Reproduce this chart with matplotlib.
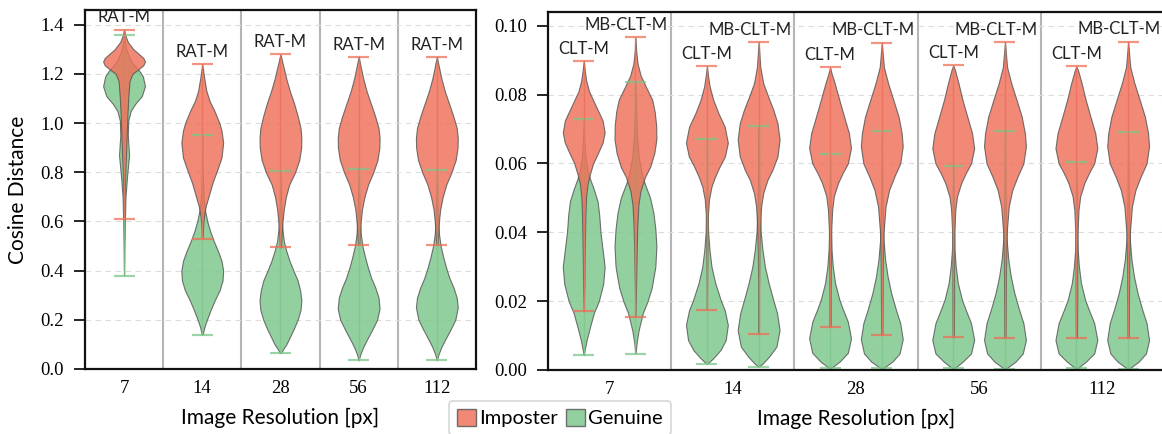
import numpy as np
import matplotlib
matplotlib.use("Agg")
import matplotlib.pyplot as plt
from matplotlib.patches import Patch

RESOLUTIONS = ["7", "14", "28", "56", "112"]

# Violin outlines: levels (cosine distance, bottom -> top)
# and the relative half width of the violin at each level (widest = 1).
# First / last level are the min / max of each distribution.

# ---- left panel: RAT-M ----
RAT_IMP_Y = [
    [0.61, 0.70, 0.80, 0.88, 0.96, 1.03, 1.10, 1.17, 1.20, 1.22, 1.235, 1.25, 1.265, 1.28, 1.30, 1.33, 1.355, 1.38],
    [0.53, 0.58, 0.62, 0.66, 0.71, 0.76, 0.81, 0.86, 0.92, 0.97, 1.00, 1.05, 1.09, 1.13, 1.18, 1.24],
    [0.495, 0.55, 0.60, 0.65, 0.70, 0.75, 0.80, 0.85, 0.90, 0.94, 0.98, 1.03, 1.08, 1.13, 1.18, 1.23, 1.28],
    [0.505, 0.55, 0.60, 0.65, 0.70, 0.75, 0.80, 0.85, 0.90, 0.94, 0.98, 1.03, 1.08, 1.13, 1.18, 1.22, 1.27],
    [0.505, 0.55, 0.60, 0.65, 0.70, 0.75, 0.80, 0.85, 0.90, 0.94, 0.98, 1.03, 1.08, 1.13, 1.18, 1.22, 1.27],
]
RAT_IMP_W = [
    [0.01, 0.03, 0.06, 0.10, 0.13, 0.16, 0.20, 0.26, 0.40, 0.70, 0.92, 1.0, 0.92, 0.72, 0.45, 0.18, 0.07, 0.0],
    [0.02, 0.04, 0.08, 0.16, 0.33, 0.50, 0.72, 0.92, 1.0, 0.92, 0.82, 0.58, 0.35, 0.20, 0.10, 0.0],
    [0.03, 0.06, 0.10, 0.16, 0.26, 0.42, 0.70, 0.90, 0.99, 1.0, 0.96, 0.82, 0.65, 0.45, 0.28, 0.14, 0.0],
    [0.03, 0.06, 0.10, 0.16, 0.28, 0.45, 0.70, 0.90, 0.99, 1.0, 0.95, 0.78, 0.58, 0.38, 0.22, 0.12, 0.0],
    [0.03, 0.06, 0.10, 0.16, 0.28, 0.45, 0.70, 0.90, 0.99, 1.0, 0.95, 0.78, 0.58, 0.38, 0.22, 0.12, 0.0],
]
RAT_GEN_Y = [
    [0.38, 0.50, 0.60, 0.70, 0.78, 0.87, 0.95, 1.01, 1.05, 1.08, 1.11, 1.15, 1.19, 1.21, 1.25, 1.30, 1.36],
    [0.14, 0.17, 0.20, 0.24, 0.28, 0.32, 0.36, 0.40, 0.44, 0.48, 0.52, 0.56, 0.60, 0.65, 0.70, 0.80, 0.95],
    [0.065, 0.08, 0.10, 0.13, 0.16, 0.20, 0.24, 0.28, 0.32, 0.36, 0.40, 0.44, 0.48, 0.52, 0.58, 0.66, 0.805],
    [0.035, 0.06, 0.09, 0.12, 0.16, 0.20, 0.245, 0.29, 0.33, 0.37, 0.41, 0.45, 0.50, 0.55, 0.62, 0.70, 0.815],
    [0.035, 0.06, 0.09, 0.12, 0.16, 0.20, 0.25, 0.29, 0.33, 0.37, 0.41, 0.45, 0.50, 0.55, 0.62, 0.70, 0.81],
]
RAT_GEN_W = [
    [0.0, 0.02, 0.04, 0.07, 0.14, 0.24, 0.18, 0.20, 0.32, 0.55, 0.85, 1.0, 0.90, 0.75, 0.35, 0.10, 0.0],
    [0.02, 0.10, 0.22, 0.40, 0.60, 0.83, 0.97, 1.0, 0.92, 0.75, 0.55, 0.38, 0.24, 0.12, 0.06, 0.02, 0.0],
    [0.03, 0.12, 0.28, 0.45, 0.62, 0.82, 0.96, 1.0, 0.94, 0.82, 0.62, 0.43, 0.28, 0.16, 0.08, 0.04, 0.0],
    [0.0, 0.08, 0.22, 0.40, 0.65, 0.88, 1.0, 0.95, 0.80, 0.60, 0.45, 0.32, 0.18, 0.10, 0.05, 0.03, 0.0],
    [0.0, 0.08, 0.22, 0.40, 0.65, 0.88, 1.0, 0.95, 0.80, 0.60, 0.45, 0.32, 0.18, 0.10, 0.05, 0.03, 0.0],
]

# ---- right panel: CLT-M ----
CLT_IMP_Y = [
    [0.017, 0.025, 0.035, 0.045, 0.050, 0.054, 0.057, 0.060, 0.063, 0.066, 0.069, 0.0725, 0.0755, 0.0785, 0.081, 0.084, 0.087, 0.0898],
    [0.0175, 0.028, 0.038, 0.045, 0.0495, 0.0533, 0.056, 0.059, 0.062, 0.066, 0.0707, 0.0746, 0.0785, 0.0824, 0.0853, 0.0882],
    [0.0125, 0.022, 0.032, 0.040, 0.0465, 0.0505, 0.0543, 0.0572, 0.060, 0.0645, 0.0688, 0.0736, 0.0785, 0.0833, 0.0860, 0.0879],
    [0.0095, 0.020, 0.030, 0.0397, 0.0465, 0.0504, 0.0543, 0.0572, 0.060, 0.0644, 0.0688, 0.0736, 0.0785, 0.0833, 0.0872, 0.0885],
    [0.0093, 0.020, 0.030, 0.0397, 0.0465, 0.0504, 0.0543, 0.0572, 0.060, 0.0644, 0.0688, 0.0736, 0.0785, 0.0833, 0.0870, 0.0882],
]
CLT_IMP_W = [
    [0.0, 0.03, 0.05, 0.08, 0.11, 0.18, 0.30, 0.45, 0.68, 0.90, 1.0, 0.90, 0.67, 0.44, 0.25, 0.12, 0.05, 0.0],
    [0.0, 0.015, 0.03, 0.05, 0.10, 0.22, 0.38, 0.60, 0.86, 1.0, 0.85, 0.55, 0.30, 0.13, 0.06, 0.0],
    [0.03, 0.03, 0.04, 0.05, 0.10, 0.18, 0.38, 0.60, 0.85, 1.0, 0.90, 0.67, 0.44, 0.22, 0.08, 0.0],
    [0.03, 0.04, 0.04, 0.05, 0.10, 0.18, 0.38, 0.60, 0.85, 1.0, 0.90, 0.67, 0.44, 0.25, 0.08, 0.0],
    [0.03, 0.04, 0.04, 0.05, 0.10, 0.18, 0.38, 0.60, 0.85, 1.0, 0.90, 0.67, 0.44, 0.25, 0.08, 0.0],
]
CLT_GEN_Y = [
    [0.0043, 0.006, 0.009, 0.0125, 0.0165, 0.020, 0.025, 0.030, 0.035, 0.040, 0.045, 0.049, 0.0525, 0.0555, 0.058, 0.062, 0.066, 0.0728],
    [0.0017, 0.0034, 0.0058, 0.0087, 0.0131, 0.0174, 0.0203, 0.0252, 0.030, 0.035, 0.040, 0.050, 0.067],
    [0.0006, 0.0024, 0.0050, 0.0092, 0.0140, 0.0178, 0.0205, 0.0252, 0.030, 0.035, 0.045, 0.0627],
    [0.0005, 0.0024, 0.0048, 0.0087, 0.0136, 0.0174, 0.0203, 0.0252, 0.030, 0.0349, 0.045, 0.0592],
    [0.0005, 0.0024, 0.0048, 0.0087, 0.0136, 0.0174, 0.0203, 0.0252, 0.030, 0.0349, 0.045, 0.0603],
]
CLT_GEN_W = [
    [0.0, 0.05, 0.15, 0.30, 0.48, 0.72, 0.93, 1.0, 0.90, 0.80, 0.74, 0.66, 0.48, 0.30, 0.18, 0.08, 0.04, 0.0],
    [0.0, 0.30, 0.65, 0.90, 1.0, 0.85, 0.66, 0.40, 0.22, 0.12, 0.06, 0.02, 0.0],
    [0.05, 0.45, 0.85, 1.0, 0.85, 0.60, 0.44, 0.24, 0.13, 0.07, 0.03, 0.0],
    [0.05, 0.45, 0.85, 1.0, 0.85, 0.60, 0.42, 0.22, 0.12, 0.06, 0.03, 0.0],
    [0.05, 0.45, 0.85, 1.0, 0.85, 0.60, 0.42, 0.22, 0.12, 0.06, 0.03, 0.0],
]

# ---- right panel: MB-CLT-M ----
MB_IMP_Y = [
    [0.0155, 0.025, 0.035, 0.042, 0.048, 0.052, 0.056, 0.059, 0.063, 0.067, 0.071, 0.075, 0.0785, 0.082, 0.0855, 0.089, 0.093, 0.0966],
    [0.0104, 0.025, 0.035, 0.042, 0.0475, 0.0514, 0.0552, 0.058, 0.062, 0.0669, 0.0717, 0.0756, 0.0795, 0.0833, 0.088, 0.0953],
    [0.0102, 0.020, 0.030, 0.0397, 0.0475, 0.0523, 0.0562, 0.060, 0.065, 0.0688, 0.0736, 0.0785, 0.0833, 0.088, 0.0951],
    [0.0094, 0.020, 0.030, 0.0397, 0.0475, 0.0523, 0.0562, 0.060, 0.065, 0.0688, 0.0736, 0.0785, 0.0833, 0.088, 0.0953],
    [0.0093, 0.020, 0.030, 0.0397, 0.0475, 0.0523, 0.0562, 0.060, 0.065, 0.0688, 0.0736, 0.0785, 0.0833, 0.088, 0.0954],
]
MB_IMP_W = [
    [0.0, 0.03, 0.06, 0.09, 0.14, 0.24, 0.45, 0.70, 0.90, 1.0, 0.99, 0.92, 0.80, 0.52, 0.25, 0.10, 0.03, 0.0],
    [0.0, 0.02, 0.04, 0.07, 0.12, 0.22, 0.42, 0.65, 0.90, 1.0, 0.90, 0.70, 0.45, 0.22, 0.08, 0.0],
    [0.03, 0.04, 0.05, 0.08, 0.18, 0.35, 0.60, 0.88, 1.0, 0.95, 0.80, 0.55, 0.30, 0.10, 0.0],
    [0.03, 0.04, 0.05, 0.08, 0.18, 0.35, 0.60, 0.88, 1.0, 0.95, 0.80, 0.55, 0.30, 0.10, 0.0],
    [0.03, 0.04, 0.05, 0.08, 0.18, 0.35, 0.60, 0.88, 1.0, 0.95, 0.80, 0.55, 0.30, 0.10, 0.0],
]
MB_GEN_Y = [
    [0.0047, 0.008, 0.0115, 0.0165, 0.020, 0.024, 0.030, 0.036, 0.041, 0.0455, 0.050, 0.054, 0.057, 0.062, 0.068, 0.075, 0.0838],
    [0.001, 0.0019, 0.0039, 0.0068, 0.0116, 0.0165, 0.0203, 0.0252, 0.030, 0.035, 0.040, 0.050, 0.060, 0.071],
    [0.0005, 0.0024, 0.0048, 0.0090, 0.0136, 0.0174, 0.0223, 0.0271, 0.032, 0.0378, 0.050, 0.0694],
    [0.0004, 0.0024, 0.0048, 0.0087, 0.0136, 0.0174, 0.0223, 0.0271, 0.032, 0.0378, 0.050, 0.0694],
    [0.0004, 0.0024, 0.0048, 0.0087, 0.0136, 0.0174, 0.0223, 0.0271, 0.032, 0.0378, 0.050, 0.0690],
]
MB_GEN_W = [
    [0.0, 0.06, 0.15, 0.35, 0.58, 0.78, 0.95, 1.0, 0.95, 0.86, 0.70, 0.45, 0.30, 0.15, 0.07, 0.03, 0.0],
    [0.0, 0.20, 0.50, 0.85, 1.0, 0.88, 0.70, 0.48, 0.30, 0.18, 0.10, 0.04, 0.02, 0.0],
    [0.05, 0.50, 0.85, 1.0, 0.88, 0.68, 0.45, 0.28, 0.16, 0.08, 0.03, 0.0],
    [0.05, 0.50, 0.85, 1.0, 0.88, 0.68, 0.45, 0.28, 0.16, 0.08, 0.03, 0.0],
    [0.05, 0.50, 0.85, 1.0, 0.88, 0.68, 0.45, 0.28, 0.16, 0.08, 0.03, 0.0],
]

IMP_COLOR = "#ef6f58"
GEN_COLOR = "#7cc68a"
EDGE_COLOR = "#555555"

SERIF = "Liberation Serif"
SANS = "Lato"


def draw_violins(ax, positions, levels, widths_rel, color, width):
    stats = [
        dict(coords=y, vals=w, mean=np.nan, median=np.nan, min=y[0], max=y[-1])
        for y, w in zip(levels, widths_rel)
    ]
    parts = ax.violin(stats, positions=positions, widths=width, showextrema=True)
    for b in parts["bodies"]:
        b.set_facecolor(color)
        b.set_edgecolor(EDGE_COLOR)
        b.set_linewidth(0.8)
        b.set_alpha(0.82)
    for k in ("cmins", "cmaxes"):
        parts[k].set_color(color)
        parts[k].set_linewidth(1.6)
        parts[k].set_alpha(0.75)
    parts["cbars"].set_color(color)
    parts["cbars"].set_linewidth(1.0)
    parts["cbars"].set_alpha(0.8)
    return parts


def style_axes(ax, yticks, fmt):
    n = len(RESOLUTIONS)
    ax.set_xlim(-0.5, n - 0.5)
    ax.set_xticks(range(n))
    ax.set_xticklabels(RESOLUTIONS, fontfamily=SERIF, fontsize=13.5)
    ax.set_yticks(yticks)
    ax.set_yticklabels([fmt.format(t) for t in yticks], fontfamily=SERIF, fontsize=13.5)
    ax.tick_params(axis="x", length=0, pad=8)
    ax.tick_params(axis="y", length=8, width=1.2, pad=7)
    for s in ax.spines.values():
        s.set_linewidth(1.6)
        s.set_color("#111111")
    ax.grid(axis="y", linestyle=(0, (5, 4)), color="#dcdcdc", linewidth=0.8)
    ax.set_axisbelow(True)
    for i in range(n - 1):
        ax.axvline(i + 0.5, color="#b5b5b8", linewidth=1.5, zorder=0.5)
    ax.set_xlabel("Image Resolution [px]", fontfamily=SANS, fontsize=15, labelpad=8)


fig = plt.figure(figsize=(11.62, 4.34), dpi=100)
ax_l = fig.add_axes([0.0731, 0.1498, 0.3365, 0.8272])
ax_r = fig.add_axes([0.4716, 0.1475, 0.5300, 0.8249])

pos = np.arange(len(RESOLUTIONS))

# left panel
draw_violins(ax_l, pos, RAT_GEN_Y, RAT_GEN_W, GEN_COLOR, 0.535)
draw_violins(ax_l, pos, RAT_IMP_Y, RAT_IMP_W, IMP_COLOR, 0.535)
ax_l.set_ylim(0, 1.46)
style_axes(ax_l, np.arange(0, 1.41, 0.2), "{:.1f}")
ax_l.set_ylabel("Cosine Distance", fontfamily=SANS, fontsize=15, labelpad=9)
for i in range(len(RESOLUTIONS)):
    top = max(RAT_IMP_Y[i][-1], RAT_GEN_Y[i][-1])
    ax_l.annotate("RAT-M", (pos[i], top), xytext=(0, 3), textcoords="offset points",
                  ha="center", va="bottom", fontfamily=SANS, fontsize=12, color="#222222")

# right panel
off = 0.21
draw_violins(ax_r, pos - off, CLT_GEN_Y, CLT_GEN_W, GEN_COLOR, 0.34)
draw_violins(ax_r, pos + off, MB_GEN_Y, MB_GEN_W, GEN_COLOR, 0.34)
draw_violins(ax_r, pos - off, CLT_IMP_Y, CLT_IMP_W, IMP_COLOR, 0.34)
draw_violins(ax_r, pos + off, MB_IMP_Y, MB_IMP_W, IMP_COLOR, 0.34)
ax_r.set_ylim(0, 0.104)
style_axes(ax_r, np.arange(0, 0.101, 0.02), "{:.2f}")
for i in range(len(RESOLUTIONS)):
    ax_r.annotate("CLT-M", (pos[i] - off, max(CLT_IMP_Y[i][-1], CLT_GEN_Y[i][-1])),
                  xytext=(0, 3), textcoords="offset points", ha="center", va="bottom",
                  fontfamily=SANS, fontsize=12, color="#222222")
    ax_r.annotate("MB-CLT-M", (pos[i] + off, max(MB_IMP_Y[i][-1], MB_GEN_Y[i][-1])),
                  xytext=(-6.5, 3), textcoords="offset points", ha="center", va="bottom",
                  fontfamily=SANS, fontsize=12, color="#222222")

handles = [
    Patch(facecolor=IMP_COLOR, edgecolor=EDGE_COLOR, alpha=0.82, label="Imposter"),
    Patch(facecolor=GEN_COLOR, edgecolor=EDGE_COLOR, alpha=0.82, label="Genuine"),
]
leg = fig.legend(handles=handles, loc="upper center", bbox_to_anchor=(0.482, 0.077),
                 borderaxespad=0, ncol=2, frameon=True, fancybox=True,
                 handlelength=0.95, handleheight=0.95, handletextpad=0.15,
                 columnspacing=0.4, borderpad=0.4, prop=dict(family=SANS, size=14.5))
leg.get_frame().set_edgecolor("#cccccc")
leg.get_frame().set_linewidth(1.2)

fig.savefig("out.png", dpi=100)
